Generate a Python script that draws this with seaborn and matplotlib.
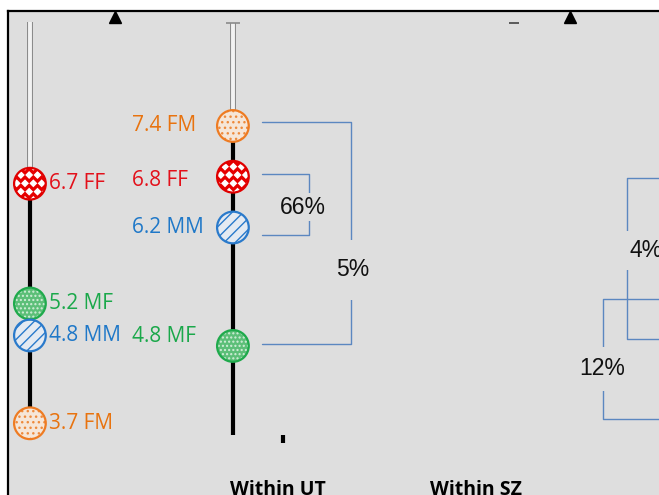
import numpy as np
import matplotlib
matplotlib.use("Agg")
import matplotlib.pyplot as plt
import matplotlib.hatch as mhatch
from matplotlib.path import Path
import seaborn as sns
import pandas as pd

# ---------------- data ----------------
col1_groups = ["FF", "MF", "MM", "FM"]
col1_values = [6.7, 5.2, 4.8, 3.7]
col2_groups = ["FM", "FF", "MM", "MF"]
col2_values = [7.4, 6.8, 6.2, 4.8]
col1_whisker_top = 8.72
col2_whisker_top = 8.62
col2_line_bottom = 3.75

bracket_labels = ["66%", "5%", "4%", "12%"]
bracket_top = [6.83, 7.45, 6.785, 5.355]
bracket_bottom = [6.11, 4.82, 4.882, 3.937]
bracket_label_value = [6.44, 5.70, 5.93, 4.53]
axis_labels = ["Within UT", "Within SZ"]


# ---------------- custom hatch: staggered filled diamonds for 'O' ----------------
class _FilledDiamonds(mhatch.Shapes):
    size = 0.36
    filled = True

    def __init__(self, hatch, density):
        self.num_rows = hatch.count("O") * density
        self.shape_vertices = np.array([[0, 1], [1, 0], [0, -1], [-1, 0], [0, 1]], float)
        self.shape_codes = np.array([Path.MOVETO, Path.LINETO, Path.LINETO,
                                     Path.LINETO, Path.CLOSEPOLY], dtype=Path.code_type)
        super().__init__(hatch, density)


mhatch._hatch_types = [(_FilledDiamonds if t is mhatch.LargeCircles else t)
                       for t in mhatch._hatch_types]

# ---------------- style ----------------
sns.set_theme(style="white")
plt.rcParams["font.family"] = ["Open Sans", "DejaVu Sans"]
plt.rcParams["hatch.linewidth"] = 1.0

styles = {
    "FF": dict(text="#e3101a", edge="#e00000", face="#e60000", hcol="white", hatch="OO"),
    "MM": dict(text="#1f78c8", edge="#2a7acb", face="#e4eaf2", hcol="#2a7acb", hatch="///"),
    "MF": dict(text="#1aa84a", edge="#1faa4c", face="#5cbf78", hcol="#d2eed9", hatch="...."),
    "FM": dict(text="#e8730f", edge="#ee7b22", face="#f6e6d8", hcol="#ee8a3c", hatch="..."),
}
bracket_color = "#5b87c0"
bg = "#dedede"

fig = plt.figure(figsize=(6.59, 4.95), dpi=100)
fig.patch.set_facecolor("white")
ax = fig.add_axes([8 / 659, 0, 651 / 659, 484 / 495])
ax.set_facecolor(bg)
ax.set_xlim(-0.108, 3.099)
ax.set_ylim(3.038, 8.759)
ax2 = ax.twinx()
ax2.set_ylim(2.802, 8.863)
for a in (ax, ax2):
    a.set_xticks([])
    a.set_yticks([])
    for s in a.spines.values():
        s.set_visible(False)
for side in ("top", "left"):
    ax.spines[side].set_visible(True)
    ax.spines[side].set_color("black")
    ax.spines[side].set_linewidth(1.6)


# ---------------- columns ----------------
def draw_column(a, xpos, groups, values, top, bottom, cap, label_dx, label_dy):
    hi = max(values)
    a.plot([xpos, xpos], [hi, top], color="#8a8a8a", lw=4.3, solid_capstyle="butt", zorder=2)
    a.plot([xpos, xpos], [hi, top], color="#f2f2f2", lw=2.8, solid_capstyle="butt", zorder=2.1)
    if cap:
        a.plot([xpos], [top], marker="_", ms=10, mew=1.2, color="#8a8a8a", zorder=2.2)
    a.plot([xpos, xpos], [bottom, hi], color="black", lw=3, solid_capstyle="butt", zorder=2.3)
    df = pd.DataFrame({"x": [xpos] * len(values), "value": values, "group": groups})
    for g, v in zip(groups, values):
        st = styles[g]
        sub = df[df["group"] == g]
        sns.scatterplot(data=sub, x="x", y="value", ax=a, s=520, color=st["face"],
                        edgecolor=st["hcol"], linewidth=0, zorder=3, legend=False)
        a.collections[-1].set_hatch(st["hatch"])
        a.scatter(sub["x"], sub["value"], s=520, facecolors="none",
                  edgecolors=st["edge"], linewidths=1.6, zorder=4)
        dy = label_dy.get(g, 0)
        a.annotate(f"{v:.1f} {g}", xy=(xpos, v),
                   xytext=(label_dx, dy), textcoords="offset pixels",
                   ha="left", va="center", fontsize=15, color=st["text"], zorder=5)
    a.set_xlabel("")
    a.set_ylabel("")


draw_column(ax2, 0, col1_groups, col1_values, col1_whisker_top, min(col1_values),
            False, 19, {})
draw_column(ax, 1, col2_groups, col2_values, col2_whisker_top, col2_line_bottom,
            True, -101, {"MF": 9, "FF": -4})
ax.set_xlim(-0.108, 3.099)
ax.set_ylim(3.038, 8.759)
ax2.set_ylim(2.802, 8.863)

# ---------------- brackets ----------------
bracket_x0 = [1.143, 1.143, 3.2, 3.2]
bracket_xv = [1.374, 1.581, 2.941, 2.823]
label_x = [1.345, 1.591, 3.034, 2.818]
label_pad = [0.12, 0.8, 0.35, 0.45]
for lab, t, b, x0, xv, lx, ly, pad in zip(bracket_labels, bracket_top, bracket_bottom,
                                          bracket_x0, bracket_xv, label_x,
                                          bracket_label_value, label_pad):
    ax.plot([x0, xv, xv, x0], [t, t, b, b], color=bracket_color, lw=1.0, zorder=1.5)
    ax.text(lx, ly, lab, ha="center", va="center", fontsize=16.5,
            family=["Liberation Sans", "DejaVu Sans"], color="#111111", zorder=6,
            bbox=dict(boxstyle=f"square,pad={pad}", fc=bg, ec="none"))

# ---------------- extra decorations ----------------
ax.plot([0.419, 2.660], [8.69, 8.69], ls="none", marker="^", ms=9, color="black", zorder=6)
ax.plot([2.387], [8.62], marker="_", ms=7, mew=1.2, color="#444444", zorder=6)
ax.plot([1.246], [3.70], marker="|", ms=6, mew=3, color="black", zorder=6)
for lab, lx in zip(axis_labels, [0.985, 1.970]):
    ax.text(lx, 3.21, lab, ha="left", va="top", fontsize=14, fontweight="bold",
            color="black", zorder=6)

fig.savefig("out.png", dpi=100, facecolor=fig.get_facecolor())
